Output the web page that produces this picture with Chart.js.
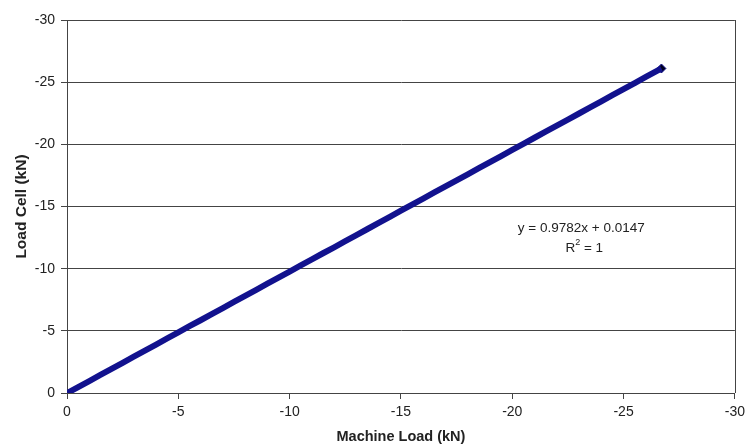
<!DOCTYPE html>
<html><head><meta charset="utf-8">
<script src="https://cdn.jsdelivr.net/npm/chart.js@4"></script>
<style>html,body{margin:0;padding:0;background:#fff}#wrap{width:750px;height:446px}</style>
</head><body><div id="wrap"><canvas id="c" width="750" height="446"></canvas></div>
<script>
const machineLoad = [0,-0.5,-1,-1.5,-2,-2.5,-3,-3.5,-4,-4.5,-5,-5.5,-6,-6.5,-7,-7.5,-8,-8.5,-9,-9.5,-10,-10.5,-11,-11.5,-12,-12.5,-13,-13.5,-14,-14.5,-15,-15.5,-16,-16.5,-17,-17.5,-18,-18.5,-19,-19.5,-20,-20.5,-21,-21.5,-22,-22.5,-23,-23.5,-24,-24.5,-25,-25.5,-26,-26.5,-26.7];
const loadCell = [0.01,-0.48,-0.96,-1.45,-1.94,-2.43,-2.92,-3.41,-3.90,-4.39,-4.88,-5.37,-5.85,-6.34,-6.83,-7.32,-7.81,-8.30,-8.79,-9.28,-9.77,-10.26,-10.75,-11.24,-11.72,-12.21,-12.70,-13.19,-13.68,-14.17,-14.66,-15.15,-15.64,-16.13,-16.62,-17.10,-17.59,-18.08,-18.57,-19.06,-19.55,-20.04,-20.53,-21.02,-21.51,-21.99,-22.48,-22.97,-23.46,-23.95,-24.44,-24.93,-25.42,-25.91,-26.10];
const axisTicks = [0,-5,-10,-15,-20,-25,-30];
const xTitle = 'Machine Load (kN)';
const yTitle = 'Load Cell (kN)';
const trendText = ['y = 0.9782x + 0.0147', 'R', '2', ' = 1'];

const points = machineLoad.map((x,i)=>({x:x,y:loadCell[i]}));
const FAM = '"Liberation Sans", Arial, sans-serif';
const endMarker = machineLoad.map((x,i)=> i === machineLoad.length-1 ? 4.5 : 0);

const extras = {
  id:'extras',
  afterDraw(chart){
    const ctx = chart.ctx, a = chart.chartArea;
    ctx.save();
    ctx.strokeStyle = '#444'; ctx.lineWidth = 1;
    ctx.beginPath(); ctx.moveTo(Math.round(a.right)+0.5, a.top); ctx.lineTo(Math.round(a.right)+0.5, a.bottom); ctx.stroke();
    ctx.fillStyle = '#222';
    const big = '13.5px ' + FAM, small = '9px ' + FAM;
    ctx.font = big;
    ctx.textBaseline = 'middle'; ctx.textAlign = 'center';
    const xs = chart.scales.x, ys = chart.scales.y;
    const cx = xs.getPixelForValue(-23.1);
    ctx.fillText(trendText[0], cx, ys.getPixelForValue(-13.25));
    const ry = ys.getPixelForValue(-11.65);
    const w1 = ctx.measureText(trendText[1]).width;
    ctx.font = small;
    const w2 = ctx.measureText(trendText[2]).width;
    ctx.font = big;
    const w3 = ctx.measureText(trendText[3]).width;
    const sx = cx + 3 - (w1+w2+w3)/2;
    ctx.textAlign = 'left';
    ctx.fillText(trendText[1], sx, ry);
    ctx.font = small;
    ctx.fillText(trendText[2], sx+w1, ry-6);
    ctx.font = big;
    ctx.fillText(trendText[3], sx+w1+w2, ry);
    ctx.restore();
  }
};

new Chart(document.getElementById('c'), {
  type:'scatter',
  data:{datasets:[
    {data:points, showLine:true, borderColor:'#12128e', borderWidth:6, pointRadius:0, tension:0},
    {data:points, showLine:true, borderColor:'#00000c', borderWidth:4,
     pointStyle:'rectRot', pointRadius:endMarker,
     pointBackgroundColor:'#000020', pointBorderColor:'#12128e', pointBorderWidth:1, tension:0}
  ]},
  options:{
    responsive:false, animation:false,
    layout:{padding:{left:0,right:12,top:20,bottom:0}},
    plugins:{legend:{display:false}, tooltip:{enabled:false}},
    scales:{
      x:{type:'linear', min:-30, max:0, reverse:true,
        afterBuildTicks(s){ s.ticks = axisTicks.map(v=>({value:v})); },
        afterFit(s){ s.height = 53; },
        grid:{drawOnChartArea:false, drawTicks:true, tickLength:6, color:'#444'},
        border:{color:'#444', width:1},
        ticks:{color:'#222', font:{family:FAM, size:14}, padding:5, maxRotation:0},
        title:{display:true, text:xTitle, color:'#222', font:{family:FAM, size:14.5, weight:'bold'}, padding:{top:0,bottom:0}}
      },
      y:{type:'linear', min:-30, max:0, reverse:true,
        afterBuildTicks(s){ s.ticks = axisTicks.map(v=>({value:v})); },
        afterFit(s){ s.width = 67; },
        grid:{drawOnChartArea:true, drawTicks:true, tickLength:6, color:'#444', lineWidth:1},
        border:{color:'#444', width:1},
        ticks:{color:'#222', font:{family:FAM, size:14}, padding:6},
        title:{display:true, text:yTitle, color:'#222', font:{family:FAM, size:15.5, weight:'bold'}, padding:{top:12,bottom:0}}
      }
    }
  },
  plugins:[extras]
});
</script></body></html>
